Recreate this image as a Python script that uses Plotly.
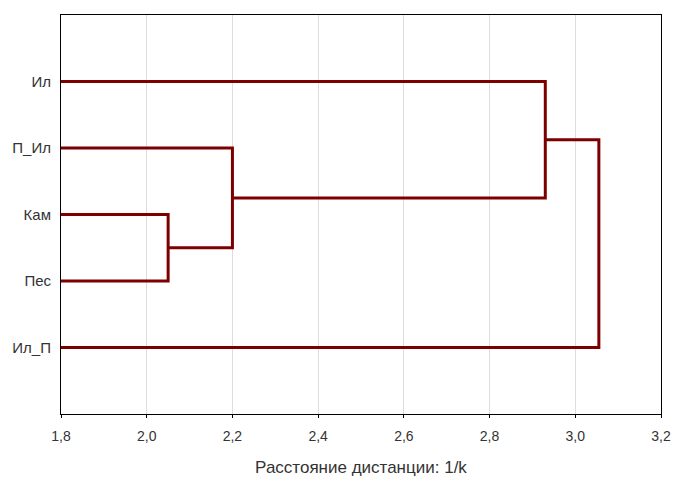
import plotly.graph_objects as go

# листья дендрограммы (сверху вниз) и шаги объединения
leaves = ["Ил", "П_Ил", "Кам", "Пес", "Ил_П"]
merge_left = ["Кам", "П_Ил", "Ил", "C3"]
merge_right = ["Пес", "C1", "C2", "Ил_П"]
merge_dist = [2.05, 2.2, 2.93, 3.055]
x_ticks = [1.8, 2.0, 2.2, 2.4, 2.6, 2.8, 3.0, 3.2]

# позиции: листья на 1..5, у кластеров середина между детьми
pos = {name: (i + 1, 1.8) for i, name in enumerate(leaves)}

fig = go.Figure()
for k, (a, b, d) in enumerate(zip(merge_left, merge_right, merge_dist)):
    ya, xa = pos[a]
    yb, xb = pos[b]
    fig.add_trace(go.Scatter(
        x=[xa, d, d, xb], y=[ya, ya, yb, yb],
        mode="lines", line=dict(color="#7d0000", width=3),
        hoverinfo="skip", showlegend=False))
    pos["C%d" % (k + 1)] = ((ya + yb) / 2, d)

# страница имеет отступ 8px у body, поэтому размеры чуть меньше
fig.update_layout(
    width=673, height=477,
    margin=dict(l=53, r=20, t=7, b=71),
    plot_bgcolor="white", paper_bgcolor="white",
    separators=", ",
    font=dict(family="Liberation Sans, Arial", size=14, color="#333"),
)
fig.update_xaxes(
    range=[1.8, 3.2], tickvals=x_ticks, tickformat=".1f",
    showgrid=True, gridcolor="#dcdcdc", gridwidth=1,
    showline=True, linecolor="black", linewidth=1, mirror=True,
    ticks="outside", ticklen=3, tickcolor="black", ticklabelstandoff=6,
    zeroline=False, automargin=False,
    title=dict(text="Расстояние дистанции: 1/k", standoff=18),
)
fig.update_yaxes(
    range=[6, 0], tickvals=[1, 2, 3, 4, 5], ticktext=leaves,
    tickfont=dict(size=15),
    showgrid=False, zeroline=False, automargin=False,
    showline=True, linecolor="black", linewidth=1, mirror=True,
    ticks="", ticklabelstandoff=6,
)

fig.write_html("out.html")
